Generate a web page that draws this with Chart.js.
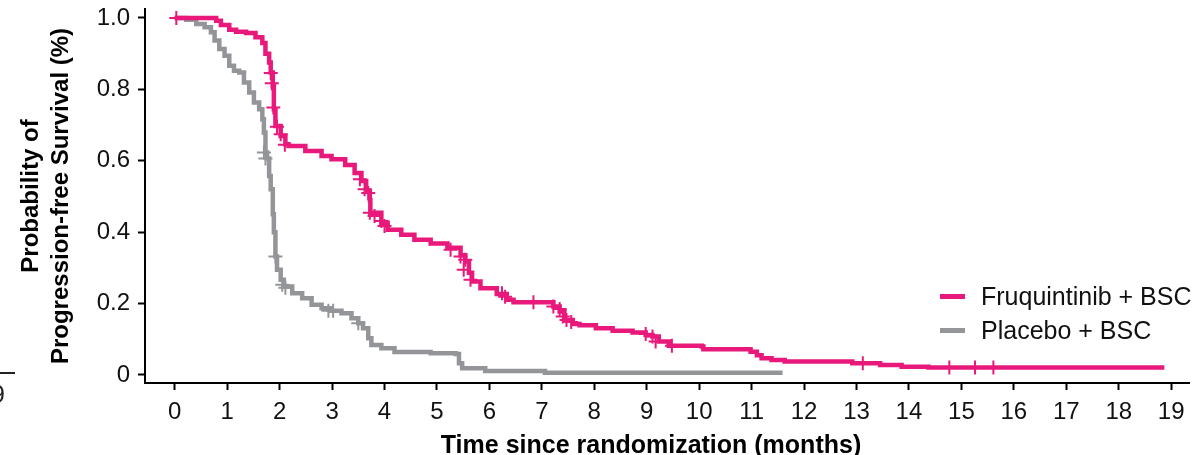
<!DOCTYPE html>
<html lang="en">
<head>
  <meta charset="UTF-8" />
  <title>Progression-free Survival</title>
  <script src="https://cdn.jsdelivr.net/npm/chart.js"></script>
  <style>
    body {
      margin: 0;
      padding: 0;
      background: #fff;
      font-family: "Liberation Sans", Arial, sans-serif;
    }

    .wrap {
      position: relative;
      width: 1198px;
      height: 455px;
      overflow: hidden;
    }

    .legend {
      position: absolute;
      left: 940px;
      top: 279px;
      font-size: 25px;
      line-height: 34px;
      color: #111;
    }

    .legend span {
      display: inline-block;
      width: 25px;
      height: 5px;
      margin-right: 16px;
      vertical-align: middle;
      position: relative;
      top: -2px;
    }

    .edge-bit {
      position: absolute;
      left: -9px;
      top: 380px;
      font-size: 25px;
      color: #222;
    }

    .edge-line {
      position: absolute;
      left: 0;
      top: 372px;
      width: 15px;
      height: 2px;
      background: #222;
    }
  </style>
</head>
<body>

  <div class="wrap">
    <canvas id="pfs" width="1198" height="455"></canvas>

    <div class="legend">
      <div><span style="background:#e8197b;"></span>Fruquintinib + BSC</div>
      <div><span style="background:#939598;"></span>Placebo + BSC</div>
    </div>

    <div class="edge-line"></div>
    <div class="edge-bit">9</div>
  </div>

  <script>
    // Kaplan-Meier steps (months, survival probability)
    const fruqTime = [0, 0.79, 0.88, 1.04, 1.17, 1.36, 1.54, 1.67, 1.73, 1.80, 1.83, 1.87, 1.89, 1.92, 2.02, 2.11, 2.17, 2.49, 2.80, 2.99, 3.25, 3.43, 3.56, 3.65, 3.72, 3.73, 3.94, 4.06, 4.32, 4.57, 4.88, 5.20, 5.45, 5.54, 5.61, 5.67, 5.83, 6.14, 6.33, 6.46, 7.22, 7.34, 7.43, 7.59, 7.72, 8.03, 8.35, 8.73, 8.98, 9.11, 9.23, 9.42, 10.05, 10.08, 10.98, 11.10, 11.19, 11.38, 11.63, 12.92, 13.45, 13.86, 14.37, 18.87];
    const fruqSurv = [1.0, 0.992, 0.98, 0.967, 0.961, 0.958, 0.946, 0.93, 0.90, 0.875, 0.847, 0.81, 0.744, 0.697, 0.669, 0.646, 0.641, 0.627, 0.613, 0.604, 0.588, 0.566, 0.543, 0.515, 0.49, 0.454, 0.426, 0.407, 0.393, 0.379, 0.368, 0.356, 0.335, 0.318, 0.286, 0.262, 0.243, 0.227, 0.211, 0.204, 0.192, 0.178, 0.154, 0.143, 0.139, 0.131, 0.124, 0.119, 0.112, 0.108, 0.094, 0.082, 0.080, 0.072, 0.065, 0.055, 0.047, 0.042, 0.038, 0.033, 0.028, 0.023, 0.021, 0.021];
    const fruqCensorTime = [0.03, 1.83, 1.85, 1.88, 1.95, 2.02, 2.10, 3.53, 3.62, 3.69, 3.72, 3.81, 3.94, 4.0, 5.26, 5.45, 5.51, 5.54, 5.64, 6.24, 6.30, 6.84, 7.22, 7.34, 7.40, 7.47, 7.56, 8.98, 9.11, 9.17, 9.48, 13.12, 14.77, 15.26, 15.61];
    const fruqCensorSurv = [1.0, 0.846, 0.817, 0.749, 0.695, 0.674, 0.645, 0.548, 0.52, 0.51, 0.454, 0.445, 0.431, 0.417, 0.351, 0.332, 0.295, 0.323, 0.267, 0.229, 0.219, 0.204, 0.192, 0.185, 0.164, 0.154, 0.148, 0.115, 0.108, 0.094, 0.082, 0.033, 0.021, 0.021, 0.021];

    const placTime = [0, 0.22, 0.41, 0.57, 0.69, 0.76, 0.85, 0.95, 1.04, 1.13, 1.23, 1.32, 1.42, 1.51, 1.61, 1.67, 1.70, 1.73, 1.76, 1.80, 1.83, 1.87, 1.89, 1.92, 1.95, 2.02, 2.08, 2.24, 2.43, 2.61, 2.80, 2.97, 3.18, 3.37, 3.50, 3.59, 3.69, 3.75, 3.94, 4.19, 4.88, 5.36, 5.42, 5.48, 5.92, 7.06, 11.59];
    const placSurv = [1.0, 0.995, 0.983, 0.974, 0.96, 0.937, 0.913, 0.894, 0.866, 0.852, 0.847, 0.819, 0.791, 0.763, 0.744, 0.716, 0.679, 0.623, 0.606, 0.557, 0.52, 0.45, 0.40, 0.332, 0.295, 0.267, 0.248, 0.229, 0.215, 0.197, 0.187, 0.18, 0.173, 0.159, 0.145, 0.131, 0.103, 0.084, 0.075, 0.064, 0.061, 0.059, 0.033, 0.019, 0.011, 0.0065, 0.0065];
    const placCensorTime = [1.70, 1.73, 1.92, 2.05, 2.11, 2.93, 3.02, 3.50];
    const placCensorSurv = [0.623, 0.606, 0.332, 0.253, 0.244, 0.18, 0.18, 0.145];

    const xTickValues = [0, 1, 2, 3, 4, 5, 6, 7, 8, 9, 10, 11, 12, 13, 14, 15, 16, 17, 18, 19];
    const yTickValues = [0, 0.2, 0.4, 0.6, 0.8, 1.0];

    const pink = '#e8197b';
    const grey = '#939598';
    const fontFamily = '"Liberation Sans", Arial, sans-serif';

    const pts = (xs, ys) => xs.map((x, i) => ({ x: x, y: ys[i] }));

    // x axis title sits a little left of the axis centre in the original
    const xTitle = {
      id: 'xTitle',
      afterDraw(chart) {
        const c = chart.ctx;
        c.save();
        c.font = 'bold 25px ' + fontFamily;
        c.fillStyle = '#000';
        c.textAlign = 'center';
        c.textBaseline = 'alphabetic';
        c.fillText('Time since randomization (months)', 651, 453);
        c.restore();
      }
    };

    const ctx = document.getElementById('pfs').getContext('2d');
    new Chart(ctx, {
      type: 'line',
      data: {
        datasets: [
          {
            label: 'Fruquintinib + BSC',
            data: pts(fruqTime, fruqSurv),
            borderColor: pink,
            borderWidth: 4.5,
            stepped: 'before',
            pointRadius: 0,
            fill: false
          },
          {
            label: 'Fruquintinib censored',
            data: pts(fruqCensorTime, fruqCensorSurv),
            showLine: false,
            pointStyle: 'cross',
            pointRadius: 7,
            borderColor: pink,
            pointBorderWidth: 2
          },
          {
            label: 'Placebo + BSC',
            data: pts(placTime, placSurv),
            borderColor: grey,
            borderWidth: 4.5,
            stepped: 'before',
            pointRadius: 0,
            fill: false
          },
          {
            label: 'Placebo censored',
            data: pts(placCensorTime, placCensorSurv),
            showLine: false,
            pointStyle: 'cross',
            pointRadius: 7,
            borderColor: grey,
            pointBorderWidth: 2
          }
        ]
      },
      options: {
        responsive: false,
        animation: false,
        layout: { padding: { top: 8, right: 0, left: 0, bottom: 0 } },
        plugins: {
          legend: { display: false },
          tooltip: { enabled: false }
        },
        scales: {
          x: {
            type: 'linear',
            min: -0.567,
            max: 19.34,
            afterBuildTicks: s => { s.ticks = xTickValues.map(v => ({ value: v })); },
            afterFit: s => { s.height = 72; s.paddingLeft = 0; s.paddingRight = 0; },
            ticks: {
              autoSkip: false,
              maxRotation: 0,
              padding: 8,
              color: '#111',
              font: { family: fontFamily, size: 24 }
            },
            grid: { drawOnChartArea: false, tickLength: 7, tickColor: '#000', tickWidth: 2 },
            border: { color: '#000', width: 2 }
          },
          y: {
            min: -0.0225,
            max: 1.025,
            afterBuildTicks: s => { s.ticks = yTickValues.map(v => ({ value: v })); },
            afterFit: s => { s.width = 145; s.paddingTop = 0; s.paddingBottom = 0; },
            ticks: {
              padding: 8,
              color: '#111',
              font: { family: fontFamily, size: 24 },
              callback: v => v === 0 ? '0' : v.toFixed(1)
            },
            grid: { drawOnChartArea: false, tickLength: 7, tickColor: '#000', tickWidth: 2 },
            border: { color: '#000', width: 2 },
            title: {
              display: true,
              text: ['Probability of', 'Progression-free Survival (%)'],
              color: '#000',
              padding: { top: 16, bottom: 0 },
              font: { family: fontFamily, size: 24, weight: 'bold', lineHeight: 1.25 }
            }
          }
        }
      },
      plugins: [xTitle]
    });
  </script>
</body>
</html>
